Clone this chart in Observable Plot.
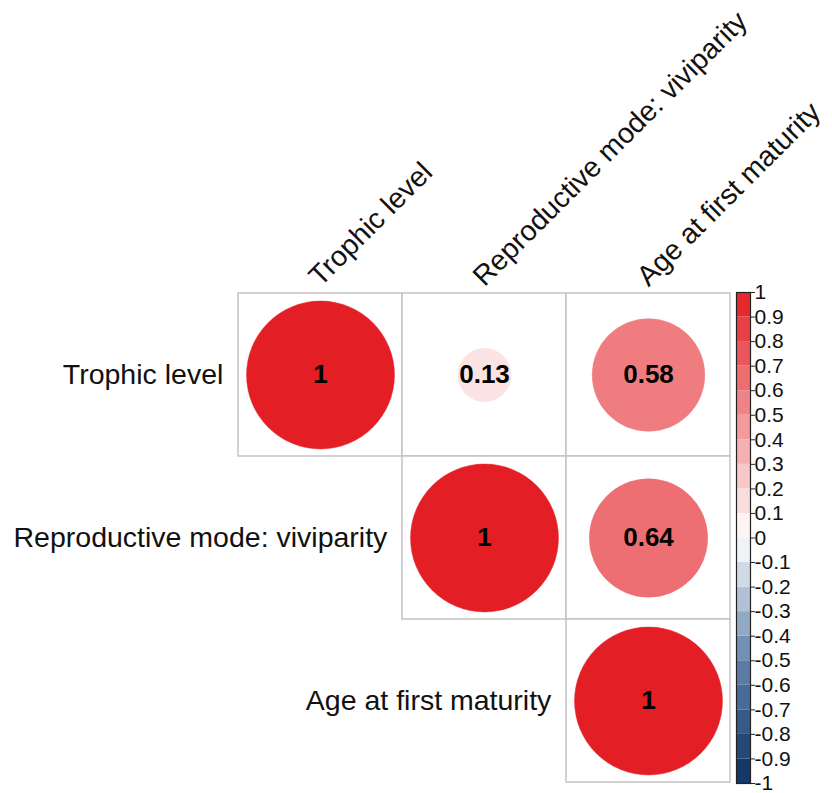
<!DOCTYPE html>
<html>
<head>
<meta charset="utf-8">
<script src="https://cdn.jsdelivr.net/npm/d3@7"></script>
<script src="https://cdn.jsdelivr.net/npm/@observablehq/plot@0.6"></script>
<style>
  html, body { margin: 0; padding: 0; background: #fff; }
  #chart { position: relative; width: 832px; height: 793px; }
  #chart svg { position: absolute; top: 0; }
</style>
</head>
<body>
<div id="chart"></div>
<script>
// ---- data ----
const variables = ["Trophic level", "Reproductive mode: viviparity", "Age at first maturity"];
const cellRow = ["Trophic level", "Trophic level", "Trophic level",
                 "Reproductive mode: viviparity", "Reproductive mode: viviparity",
                 "Age at first maturity"];
const cellCol = ["Trophic level", "Reproductive mode: viviparity", "Age at first maturity",
                 "Reproductive mode: viviparity", "Age at first maturity",
                 "Age at first maturity"];
const corrValues = [1, 0.13, 0.58, 1, 0.64, 1];
const legendTicks = [-1, -0.9, -0.8, -0.7, -0.6, -0.5, -0.4, -0.3, -0.2, -0.1, 0,
                     0.1, 0.2, 0.3, 0.4, 0.5, 0.6, 0.7, 0.8, 0.9, 1];

const cells = corrValues.map((v, i) => ({row: cellRow[i], col: cellCol[i], value: v}));
const bins = legendTicks.slice(0, -1).map((t, i) => ({lo: t, hi: legendTicks[i + 1], mid: (t + legendTicks[i + 1]) / 2}));

const colorScale = {
  type: "linear",
  domain: [-1, -0.5, 0, 1],
  range: ["#0b2f5f", "#6384ad", "#ffffff", "#e31e24"],
  interpolate: "rgb"
};
const font = "'Liberation Sans', Arial, Helvetica, sans-serif";
const fmt = d => String(Math.round(d * 100) / 100);

// layout
const mLeft = 237, mTop = 292, mRight = 102, mBottom = 10, W = 832, H = 793;
const band = (W - mLeft - mRight) / variables.length;

const main = Plot.plot({
  width: W, height: H,
  marginLeft: mLeft, marginTop: mTop, marginRight: mRight, marginBottom: mBottom,
  style: {fontFamily: font, overflow: "visible", background: "white"},
  x: {type: "band", domain: variables, padding: 0, axis: null},
  y: {type: "band", domain: variables, padding: 0, axis: null},
  r: {type: "sqrt", domain: [0, 1], range: [0, band * 0.45]},
  color: colorScale,
  marks: [
    Plot.cell(cells, {x: "col", y: "row", fill: "white", stroke: "#c4c4c4", strokeWidth: 1.5}),
    Plot.dot(cells, {x: "col", y: "row", r: d => Math.abs(d.value), fill: "value", stroke: "value", strokeWidth: 0.5}),
    Plot.text(cells, {x: "col", y: "row", text: d => fmt(d.value), fontWeight: "bold", fontSize: 26, fill: "black"}),
    Plot.text(variables, {x: d => d, y: d => d, textAnchor: "end", dx: -(band / 2 + 15), fontSize: 28.5, fill: "#111"}),
    Plot.text(variables, {x: d => d, frameAnchor: "top", rotate: -45, textAnchor: "start", lineAnchor: "bottom", dx: 0, dy: -5, fontSize: 28.5, fill: "#111"})
  ]
});
main.style.left = "0px";

const legend = Plot.plot({
  width: 132, height: H,
  marginLeft: 36, marginRight: 82, marginTop: mTop, marginBottom: mBottom,
  style: {fontFamily: font, overflow: "visible", background: "none"},
  x: {domain: [0, 1], axis: null},
  y: {domain: [-1, 1], axis: null},
  color: colorScale,
  marks: [
    Plot.rect(bins, {x1: 0, x2: 1, y1: "lo", y2: "hi", fill: "mid"}),
    Plot.frame({stroke: "#222", strokeWidth: 1.2}),
    Plot.axisY({anchor: "right", ticks: legendTicks, tickFormat: d => String(Math.round(d * 10) / 10),
                tickSize: 4, tickPadding: 0, fontSize: 21, color: "#111", stroke: "#222"})
  ]
});
legend.style.left = "700px";

const el = document.getElementById("chart");
el.appendChild(main);
el.appendChild(legend);
</script>
</body>
</html>
